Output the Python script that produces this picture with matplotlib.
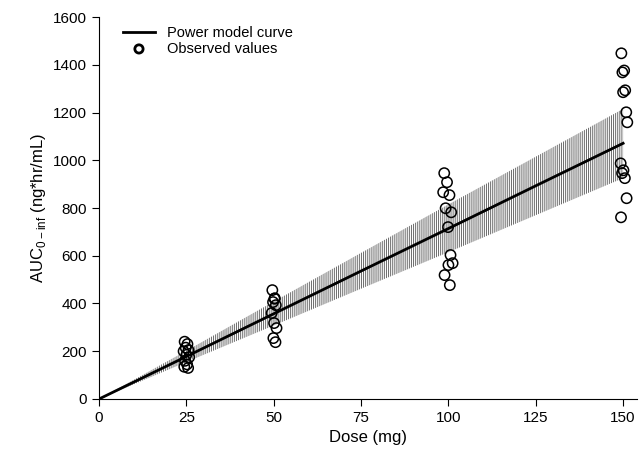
import numpy as np
import matplotlib
matplotlib.use('Agg')
import matplotlib.pyplot as plt

# power model curve
curve_dose = [0, 25, 50, 75, 100, 125, 150]
curve_auc = [0, 178, 357, 536, 714, 893, 1071]
band_lower = [0, 155, 308, 462, 615, 770, 925]
band_upper = [0, 202, 408, 612, 815, 1015, 1215]

# observed values
obs_dose = [24.5, 25.3, 24.8, 25.6, 24.2, 25.0, 25.8, 24.6, 25.2, 24.4, 25.5,
            49.6, 50.3, 49.8, 50.6, 49.4, 50.1, 50.8, 49.9, 50.5, 50.2,
            98.8, 99.6, 98.5, 100.3, 99.2, 100.8, 99.9, 100.6, 101.2, 100.0, 98.9, 100.4,
            149.5, 150.3, 149.8, 150.6, 150.0, 150.9, 151.2, 149.3, 150.1, 149.7, 150.5, 151.0, 149.4]
obs_auc = [240, 230, 215, 205, 200, 185, 175, 160, 145, 135, 130,
           456, 422, 406, 393, 360, 318, 297, 255, 238, 420,
           946, 908, 866, 854, 799, 782, 720, 603, 569, 561, 519, 477,
           1448, 1376, 1368, 1293, 1285, 1201, 1159, 987, 958, 946, 925, 841, 761]

plt.rcParams['font.family'] = ['Liberation Sans', 'DejaVu Sans']
plt.rcParams['hatch.color'] = '#6a6a6a'
plt.rcParams['hatch.linewidth'] = 0.7

fig = plt.figure(figsize=(6.39, 4.61), dpi=100)
ax = fig.add_axes([0.155, 0.1345, 0.842, 0.8286])

ax.fill_between(curve_dose, band_lower, band_upper, facecolor='none',
                edgecolor='#6a6a6a', hatch='||||||||', linewidth=0)
ax.plot(curve_dose, curve_auc, color='black', lw=2, label='Power model curve')
ax.scatter(obs_dose, obs_auc, s=55, facecolors='none', edgecolors='black',
           linewidths=1.1, label='Observed values', zorder=3)

ax.set_xlim(0, 154)
ax.set_ylim(0, 1600)
ax.set_xticks([0, 25, 50, 75, 100, 125, 150])
ax.set_yticks(np.arange(0, 1601, 200))
ax.spines['top'].set_visible(False)
ax.spines['right'].set_visible(False)
ax.tick_params(direction='out', length=5, labelsize=11)
ax.set_xlabel('Dose (mg)', fontsize=12)
ax.set_ylabel(r'AUC$_{\mathregular{0-inf}}$ (ng*hr/mL)', fontsize=12)

leg = ax.legend(loc='upper left', bbox_to_anchor=(0.02, 1.01), frameon=False,
                fontsize=10.5, handlelength=2.2, labelspacing=0.1, markerscale=0.8)
leg.legend_handles[1].set_linewidth(2)

plt.savefig('out.png', dpi=100)
